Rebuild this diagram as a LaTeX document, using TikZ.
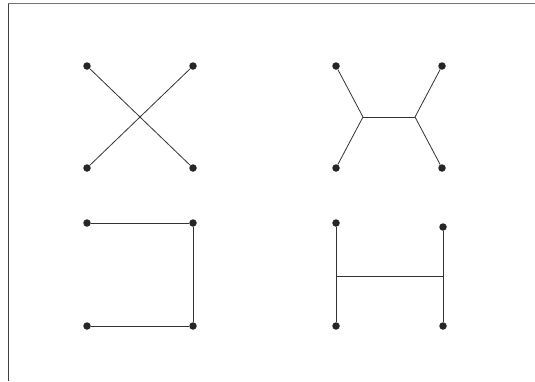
\documentclass[tikz,border=0pt]{standalone}
\usepackage{tikz}
\usetikzlibrary{positioning, calc}

\begin{document}
\begin{tikzpicture}[
  x=1pt, y=-1pt,
  vtx/.style={circle, fill=black!85, inner sep=0pt, minimum size=7.5pt},
  edge/.style={draw=black!80, line width=0.8pt}
]
  \useasboundingbox (0,0) rectangle (535,381);
  % frame, only top and left show
  \draw[black!55, line width=1pt] (535,3.5) -- (8,3.5);
  \draw[black!75, line width=0.9pt] (8,3.5) -- (8,381);

  % crossing
  \node[vtx] (a1) at (87,66) {};
  \node[vtx] (a2) at (193,66) {};
  \node[vtx] (a3) at (87,168) {};
  \node[vtx] (a4) at (193,168) {};
  \draw[edge] (a1) -- (a4);
  \draw[edge] (a2) -- (a3);

  % two branch points
  \node[vtx] (b1) at (336,66) {};
  \node[vtx] (b2) at (442,66) {};
  \node[vtx] (b3) at (336,168) {};
  \node[vtx] (b4) at (442,168) {};
  \coordinate (bl) at (363,117);
  \coordinate (br) at (415,117);
  \draw[edge] (b1) -- (bl) -- (b3);
  \draw[edge] (b2) -- (br) -- (b4);
  \draw[edge] (bl) -- (br);

  % open box
  \node[vtx] (c1) at (87,223) {};
  \node[vtx] (c2) at (193,223) {};
  \node[vtx] (c3) at (87,326) {};
  \node[vtx] (c4) at (193,326) {};
  \draw[edge] (c1) -- (c2) -- (c4) -- (c3);

  % H shape
  \node[vtx] (d1) at (336,223) {};
  \node[vtx] (d2) at (443,227) {};
  \node[vtx] (d3) at (336,326) {};
  \node[vtx] (d4) at (443,326) {};
  \coordinate (dl) at (336,276);
  \coordinate (dr) at (443,276);
  \draw[edge] (d1) -- (d3);
  \draw[edge] (d2) -- (d4);
  \draw[edge] (dl) -- (dr);
\end{tikzpicture}
\end{document}
